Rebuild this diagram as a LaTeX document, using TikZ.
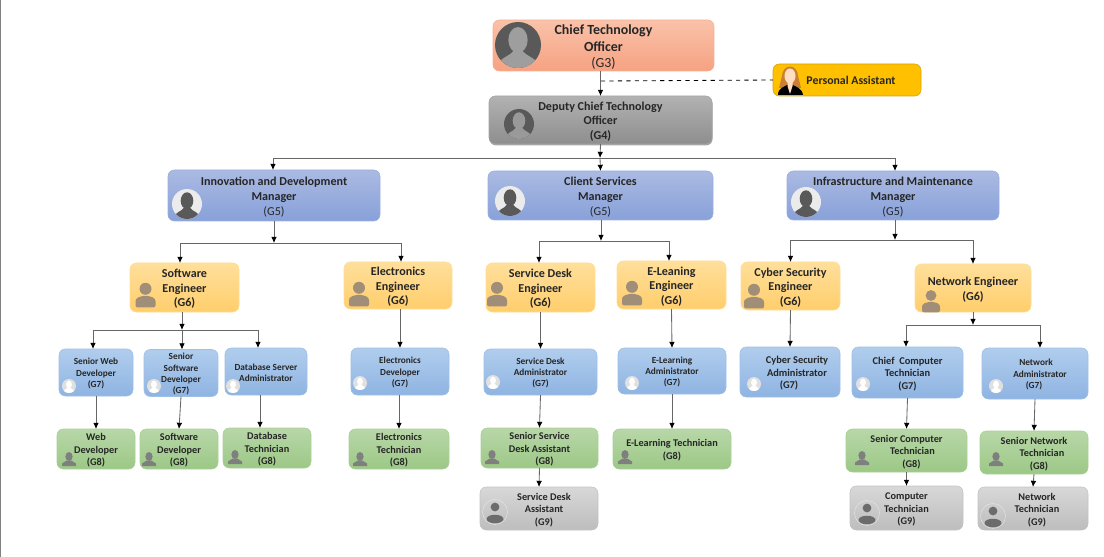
\documentclass[tikz,border=0pt]{standalone}
\usepackage{fontspec}
\setmainfont{Carlito}
\usepackage{xcolor}
\usetikzlibrary{arrows.meta,shadows}

\definecolor{ctotop}{HTML}{F9C2A9}
\definecolor{ctobot}{HTML}{F6A282}
\definecolor{dcttop}{HTML}{B2B2B2}
\definecolor{dctbot}{HTML}{8E8E8E}
\definecolor{mgrtop}{HTML}{AABAE2}
\definecolor{mgrbot}{HTML}{88A1D9}
\definecolor{engtop}{HTML}{FFDF9B}
\definecolor{engbot}{HTML}{FFCE6C}
\definecolor{admtop}{HTML}{B0CDED}
\definecolor{admbot}{HTML}{8FB4E2}
\definecolor{tectop}{HTML}{B8D7A8}
\definecolor{tecbot}{HTML}{9CC886}
\definecolor{asttop}{HTML}{D8D8D8}
\definecolor{astbot}{HTML}{BDBDBD}
\definecolor{inktext}{HTML}{262626}
\definecolor{iconbrown}{HTML}{A08E78}
\definecolor{icongray}{HTML}{7F7F7F}
\definecolor{icondark}{HTML}{595959}
\definecolor{astgray}{HTML}{6C6C6C}
\definecolor{FFCol}{HTML}{FFC000}

\newlength\pxd
\setlength\pxd{0.05cm}
\newcommand{\shr}[1]{\hspace*{#1\pxd}}
\newcommand{\topln}{\rule{0pt}{0.95em}}

% disc with a head and shoulders cut out of it
\newcommand{\discface}[5]{
  \begin{scope}[shift={(#1,#2)},scale=#3]
    \fill[#4] (0,0) circle (1);
    \begin{scope}
      \clip (0,0) circle (1);
      \fill[#5] (0,-0.22) ellipse (0.42 and 0.56);
      \fill[#5] (-0.95,1) .. controls (-0.85,0.55) and (-0.35,0.5) .. (-0.2,0.25) -- (0.2,0.25) .. controls (0.35,0.5) and (0.85,0.55) .. (0.95,1) -- cycle;
    \end{scope}
  \end{scope}
}
% bust without a disc
\newcommand{\bustface}[4]{
  \begin{scope}[shift={(#1,#2)},scale=#3]
    \fill[#4] (0,-0.72) circle (0.6);
    \fill[#4, rounded corners=1.5pt] (-1,1.15) -- (-1,0.3) -- (-0.45,0) -- (0.45,0) -- (1,0.3) -- (1,1.15) -- cycle;
  \end{scope}
}
% small bust of the technicians
\newcommand{\techface}[2]{
  \begin{scope}[shift={(#1,#2)}]
    \fill[icongray] (0,-2.5) ellipse (3.6 and 4.5);
    \fill[icongray] (-7,7) -- (-7,4.5) -- (-2.2,1.5) -- (2.2,1.5) -- (7,4.5) -- (7,7) -- cycle;
  \end{scope}
}
% circled head and body of the assistants
\newcommand{\astface}[3]{
  \begin{scope}[shift={(#1,#2)},scale=#3]
    \draw[white!35!asttop, line width=0.3pt] (0,0) circle (1);
    \fill[astgray] (0,-0.4) circle (0.35);
    \fill[astgray] (0,0.56) ellipse (0.68 and 0.34);
  \end{scope}
}

\tikzset{
  bx/.style 2 args={minimum width=#1*0.025cm,minimum height=#2*0.025cm},
  orgbox/.style={rounded corners=4.5pt,align=center,inner sep=0pt,outer sep=0pt,text=inktext},
  gthree/.style={orgbox,top color=ctotop,bottom color=ctobot,draw=ctobot!85!white,
    font=\fontsize{9.9}{11.8}\selectfont\bfseries},
  gfour/.style={orgbox,top color=dcttop,bottom color=dctbot,draw=dctbot!80!white,
    font=\fontsize{8.6}{10.4}\selectfont\bfseries,
    drop shadow={shadow xshift=0.4pt,shadow yshift=-1pt,opacity=0.35,fill=black}},
  gfive/.style={orgbox,top color=mgrtop,bottom color=mgrbot,draw=mgrbot!85!white,
    font=\fontsize{8.6}{10.4}\selectfont\bfseries},
  gsix/.style={orgbox,top color=engtop,bottom color=engbot,draw=engbot!70!white,
    font=\fontsize{8.6}{10.4}\selectfont\bfseries},
  gseven/.style={orgbox,top color=admtop,bottom color=admbot,draw=admbot!85!white,
    font=\fontsize{6.6}{8}\selectfont\bfseries},
  geight/.style={orgbox,top color=tectop,bottom color=tecbot,draw=tecbot!85!white,
    font=\fontsize{7.3}{8.9}\selectfont\bfseries},
  gnine/.style={orgbox,top color=asttop,bottom color=astbot,draw=astbot!90!white,
    font=\fontsize{7.3}{8.9}\selectfont\bfseries},
  assistbox/.style={orgbox,fill=FFCol,draw=FFCol!85!black,font=\fontsize{8.4}{10}\selectfont\bfseries},
  link/.style={draw=black!60,line width=0.6pt},
  linkto/.style={link,-{Latex[black,length=4.4pt,width=4pt]}},
  dashlink/.style={draw=black,line width=0.6pt,dashed},
}

\begin{document}
\begin{tikzpicture}[x=0.025cm,y=-0.025cm]
  \useasboundingbox (0,0) rectangle (1104,557);
  \fill[black!50] (0,0) rectangle (1,557);

  % top of the chart
  \node[gthree,bx={221}{51}] (cto) at (603.5,45.5) {\topln Chief Technology\\Officer\\{\mdseries (G3)}};
  \node[gfour,bx={223}{48}] (dcto) at (600.5,120) {\topln Deputy Chief Technology\\Officer\\(G4)};
  \node[assistbox,bx={148}{32}] (pa) at (847,80) {\shr{4}Personal Assistant};

  % managers
  \node[gfive,bx={212}{51}] (innov) at (274,195.5) {\topln Innovation and Development\\Manager\\{\mdseries (G5)}};
  \node[gfive,bx={225}{49}] (client) at (600.5,195.5) {\topln Client Services\\Manager\\{\mdseries (G5)}};
  \node[gfive,bx={212}{49}] (infra) at (893,195.5) {\topln Infrastructure and Maintenance\\Manager\\{\mdseries (G5)}};

  % engineers
  \node[gsix,bx={109}{49}] (softeng) at (184.5,287.5) {\topln Software\\Engineer\\(G6)};
  \node[gsix,bx={108}{47}] (eleceng) at (398,285.5) {\topln Electronics\\Engineer\\(G6)};
  \node[gsix,bx={109}{49}] (desketeng) at (540.5,287.5) {\topln Service Desk\\Engineer\\(G6)};
  \node[gsix,bx={109}{48}] (elearneng) at (671.5,285) {\topln E-Leaning\\Engineer\\(G6)};
  \node[gsix,bx={99}{48}] (cybereng) at (790.5,286) {\topln Cyber Security\\Engineer\\(G6)};
  \node[gsix,bx={116}{48}] (neteng) at (973,288) {\topln Network Engineer\\(G6)};

  % administrators and senior developers
  \node[gseven,bx={74}{47}] (srweb) at (96,372.5) {\topln Senior Web\\Developer\\(G7)};
  \node[gseven,bx={74}{47}] (srsoft) at (181,373) {\topln Senior\\Software\\Developer\\(G7)};
  \node[gseven,bx={82}{47}] (dbadm) at (266,371.5) {\topln Database Server\\Administrator};
  \node[gseven,bx={98}{47}] (elecdev) at (400,371.5) {\topln Electronics\\Developer\\(G7)};
  \node[gseven,bx={113}{46}] (deskadm) at (540.5,372) {\topln Service Desk\\Administrator\\(G7)};
  \node[gseven,bx={108}{46}] (elearnadm) at (672,371) {\topln E-Learning\\Administrator\\(G7)};
  \node[gseven,bx={100}{50},font=\fontsize{7.4}{8.9}\selectfont\bfseries] (cyberadm) at (790,372) {\topln\shr{7}Cyber Security\\\shr{7}Administrator\\\shr{-1}(G7)};
  \node[gseven,bx={111}{51},font=\fontsize{7.4}{8.9}\selectfont\bfseries] (chiefcomp) at (907.5,372.5) {\topln Chief~ Computer\\Technician\\(G7)};
  \node[gseven,bx={106}{51}] (netadm) at (1035,373.5) {\topln\shr{1}Network\\\shr{5}Administrator\\\shr{-1}(G7)};

  % technicians
  \node[geight,bx={78}{40}] (webdev) at (96,449) {\topln Web\\Developer\\(G8)};
  \node[geight,bx={78}{40}] (softdev) at (179,449) {\topln Software\\Developer\\(G8)};
  \node[geight,bx={88}{40}] (dbtech) at (267,448) {\topln Database\\Technician\\(G8)};
  \node[geight,bx={100}{40}] (electech) at (399,449) {\topln Electronics\\Technician\\(G8)};
  \node[geight,bx={117}{40}] (srdesk) at (539.5,448) {\topln Senior Service\\Desk Assistant\\\shr{5}(G8)};
  \node[geight,bx={118}{40}] (elearntech) at (672,449) {\topln E-Learning Technician\\(G8)};
  \node[geight,bx={121}{43}] (srcomp) at (906.5,450.5) {\topln Senior Computer\\\shr{6}Technician\\\shr{5}(G8)};
  \node[geight,bx={108}{43}] (srnet) at (1034,452.5) {\topln Senior Network\\\shr{8}Technician\\\shr{5}(G8)};

  % assistants
  \node[gnine,bx={118}{43}] (deskast) at (539,508.5) {\topln\shr{5}Service Desk\\\shr{5}Assistant\\\shr{5}(G9)};
  \node[gnine,bx={113}{44}] (comptech) at (906.5,508) {\topln Computer\\Technician\\(G9)};
  \node[gnine,bx={110}{43}] (nettech) at (1033,508.5) {\topln\shr{4}Network\\\shr{4}Technician\\\shr{4}(G9)};

  % portraits
  \discface{518}{45}{23}{icondark}{black!38}
  \discface{519}{124}{15}{icondark}{black!40}
  \discface{187}{204}{15}{black!8}{icondark}
  \discface{510}{201}{15}{black!8}{icondark}
  \discface{806}{202}{15}{black!8}{icondark}
  \foreach \xx/\yy in {145.5/296,359/295,497/295,632/294,754/297} {
    \bustface{\xx}{\yy}{10}{iconbrown}
  }
  \bustface{931}{302}{9}{iconbrown}
  \foreach \xx/\yy in {69/386,154/386,233/386,360/383,493/382,632/383,754/384,863/384,996/386} {
    \discface{\xx}{\yy}{7}{black!12}{white}
  }
  \foreach \xx/\yy in {69/459,149/459,235/457,360/459,492/457,625/457,862/458,996/459} {
    \techface{\xx}{\yy}
  }
  \astface{495}{512}{12.5}
  \astface{867}{513}{12.5}
  \astface{993}{516}{12.5}

  % personal assistant portrait
  \fill[brown!85!orange] (790,76) ellipse (8 and 9.5);
  \fill[brown!85!orange] (782,76) -- (798,76) -- (801,88) -- (779,88) -- cycle;
  \fill[black] (778,95) .. controls (778,88) and (784,87) .. (787,85) -- (793,85) .. controls (796,87) and (802,88) .. (803,95) -- cycle;
  \fill[orange!25!white] (790,76) ellipse (5.5 and 7.5);
  \fill[orange!25!white] (787.5,80) -- (792.5,80) -- (792.5,86) -- (790,94) -- (787.5,86) -- cycle;

  % junctions
  \coordinate (busceo) at (600,158);
  \coordinate (jpa) at (601,81);
  \coordinate (businnov) at (274,243);
  \coordinate (busclient) at (601,241);
  \coordinate (businfra) at (895,240);
  \coordinate (bussoft) at (182,330);
  \coordinate (busnet) at (973,325);
  \coordinate (pdb) at (258,330);
  \coordinate (pweb) at (93,330);
  \coordinate (pchief) at (906,325);
  \coordinate (pnetadm) at (1040,325);
  \coordinate (pdbdown) at (260,395);
  \coordinate (pinfra) at (895,158);
  \coordinate (pinnov) at (273,158);

  \draw[linkto] (cto.south -| dcto.north) -- (dcto.north);
  \draw[dashlink] (jpa) -- (pa.west);
  \draw[linkto] (dcto.south) -- (busceo);
  \draw[linkto] (busceo) -- (client.north);
  \draw[link] (pinnov) -- (pinfra);
  \draw[linkto] (pinnov) -- (pinnov |- innov.north);
  \draw[linkto] (pinfra) -- (pinfra |- infra.north);

  \draw[linkto] (innov.south) -- (businnov);
  \draw[linkto] (businnov) -| (softeng.north -| 180,0);
  \draw[linkto] (businnov) -| (eleceng.north -| 401,0);
  \draw[linkto] (client.south -| busclient) -- (busclient);
  \draw[linkto] (busclient) -| (desketeng.north -| 539,0);
  \draw[linkto] (busclient) -| (elearneng.north -| 669,0);
  \draw[linkto] (infra.south -| businfra) -- (businfra);
  \draw[linkto] (businfra) -| (cybereng.north);
  \draw[linkto] (businfra) -| (neteng.north);

  \draw[linkto] (softeng.south -| bussoft) -- (bussoft);
  \draw[linkto] (bussoft) -- (bussoft |- srsoft.north);
  \draw[link] (pweb) -- (pdb);
  \draw[linkto] (pweb) -- (pweb |- srweb.north);
  \draw[linkto] (pdb) -- (pdb |- dbadm.north);
  \draw[linkto] (neteng.south) -- (busnet);
  \draw[link] (pchief) -- (pnetadm);
  \draw[linkto] (pchief) -- (pchief |- chiefcomp.north);
  \draw[linkto] (pnetadm) -- (pnetadm |- netadm.north);

  \draw[linkto] (eleceng.south -| elecdev.north) -- (elecdev.north);
  \draw[linkto] (desketeng.south) -- (deskadm.north);
  \draw[linkto] (elearneng.south) -- (elearnadm.north);
  \draw[linkto] (cybereng.south) -- (cyberadm.north);

  \draw[linkto] (srweb.south) -- (webdev.north);
  \draw[linkto] (srsoft.south) -- (softdev.north);
  \draw[linkto] (pdbdown) -- (pdbdown |- dbtech.north);
  \draw[linkto] (elecdev.south -| electech.north) -- (electech.north);
  \draw[linkto] (deskadm.south) -- (srdesk.north);
  \draw[linkto] (elearnadm.south) -- (elearntech.north);
  \draw[linkto] (chiefcomp.south) -- (srcomp.north);
  \draw[linkto] (netadm.south) -- (srnet.north);
  \draw[linkto] (srdesk.south) -- (deskast.north);
  \draw[linkto] (srcomp.south) -- (comptech.north);
  \draw[linkto] (srnet.south) -- (nettech.north);
\end{tikzpicture}
\end{document}
